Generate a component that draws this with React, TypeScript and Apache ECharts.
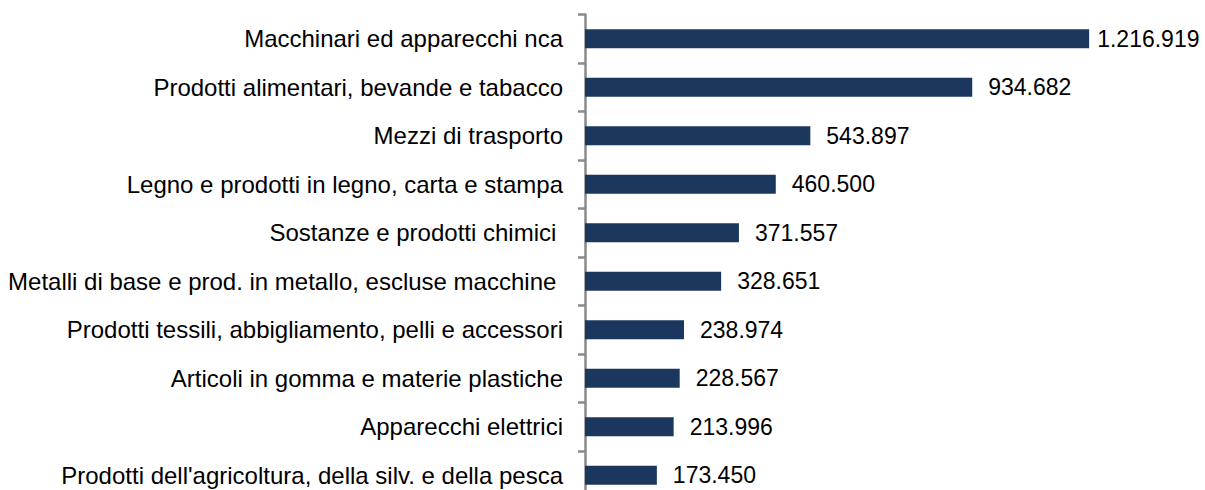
import React, { useEffect, useRef } from "react";
import * as echarts from "echarts";

const categories: string[] = [
  "Macchinari ed apparecchi nca",
  "Prodotti alimentari, bevande e tabacco",
  "Mezzi di trasporto",
  "Legno e prodotti in legno, carta e stampa",
  "Sostanze e prodotti chimici ",
  "Metalli di base e prod. in metallo, escluse macchine ",
  "Prodotti tessili, abbigliamento, pelli e accessori",
  "Articoli in gomma e materie plastiche",
  "Apparecchi elettrici",
  "Prodotti dell'agricoltura, della silv. e della pesca",
];

const values: number[] = [
  1216919, 934682, 543897, 460500, 371557, 328651, 238974, 228567, 213996, 173450,
];

const fmt = (v: number) =>
  String(Math.round(v)).replace(/\B(?=(\d{3})+(?!\d))/g, ".");

const FONT = "Liberation Sans, Arial, sans-serif";

export default function App() {
  const ref = useRef<HTMLDivElement>(null);
  useEffect(() => {
    if (!ref.current) return;
    const chart = echarts.init(ref.current, undefined, { renderer: "svg" });
    const maxV = Math.max(...values);
    chart.setOption({
      animation: false,
      textStyle: { fontFamily: FONT },
      grid: {
        left: 585,
        right: 40,
        top: 14.5,
        height: 485,
        outerBoundsMode: "none",
        containLabel: false,
      },
      xAxis: {
        type: "value",
        min: 0,
        max: 1400000,
        show: false,
        splitLine: { show: false },
      },
      yAxis: {
        type: "category",
        inverse: true,
        data: categories,
        axisLine: { show: true, lineStyle: { color: "#8A8A8A", width: 2.5 } },
        axisTick: {
          show: true,
          length: 7,
          lineStyle: { color: "#8A8A8A", width: 2.5 },
        },
        axisLabel: {
          color: "#000",
          fontSize: 24,
          margin: 22,
          fontFamily: FONT,
        },
      },
      series: [
        {
          type: "bar",
          data: values.map((v) =>
            v === maxV ? { value: v, label: { distance: 8 } } : v
          ),
          barWidth: 19,
          itemStyle: { color: "#1B375D" },
          label: {
            show: true,
            position: "right",
            distance: 16,
            color: "#000",
            fontSize: 23,
            fontFamily: FONT,
            formatter: (p: any) => fmt(p.value),
          },
        },
      ],
    });
    return () => chart.dispose();
  }, []);
  return (
    <div
      ref={ref}
      style={{ position: "absolute", left: 0, top: 0, width: 1205, height: 490 }}
    />
  );
}
